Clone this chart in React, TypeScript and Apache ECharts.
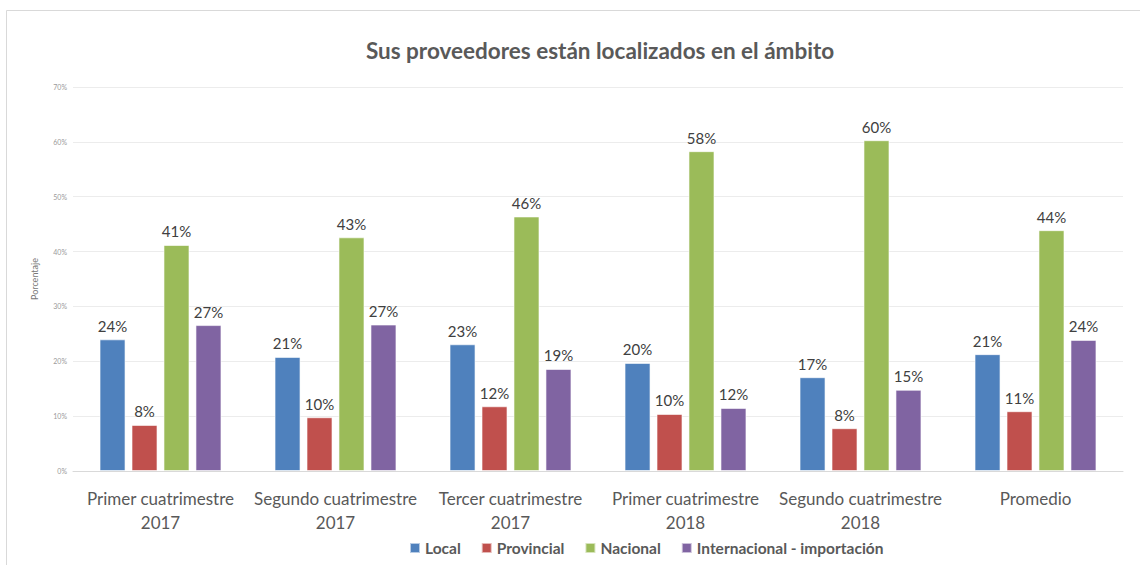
import React, { useEffect, useRef } from "react";
import * as echarts from "echarts";

const categories = [
  "Primer cuatrimestre\n2017",
  "Segundo cuatrimestre\n2017",
  "Tercer cuatrimestre\n2017",
  "Primer cuatrimestre\n2018",
  "Segundo cuatrimestre\n2018",
  "Promedio",
];
const local = [24.0, 20.8, 23.1, 19.7, 17.1, 21.3];
const provincial = [8.4, 9.8, 11.8, 10.4, 7.8, 10.9];
const nacional = [41.2, 42.6, 46.4, 58.3, 60.3, 43.9];
const internacional = [26.6, 26.7, 18.6, 11.5, 14.8, 23.9];
const seriesNames = ["Local", "Provincial", "Nacional", "Internacional - importación"];
const colors = ["#4F81BD", "#C0504D", "#9BBB59", "#8064A2"];

export default function App() {
  const ref = useRef<HTMLDivElement>(null);
  useEffect(() => {
    if (!ref.current) return;
    const chart = echarts.init(ref.current, null, { renderer: "svg" });
    const data = [local, provincial, nacional, internacional];
    const font = "Lato, 'Open Sans', sans-serif";
    chart.setOption({
      animation: false,
      textStyle: { fontFamily: font },
      title: {
        text: "Sus proveedores están localizados en el ámbito",
        left: 595,
        textAlign: "center",
        top: 34,
        textStyle: { fontSize: 22.5, fontWeight: "bold", color: "#595959", fontFamily: font },
      },
      graphic: [
        { type: "line", shape: { x1: 6.5, y1: 10.5, x2: 1140, y2: 10.5 }, style: { stroke: "#d9d9d9", lineWidth: 1 } },
        { type: "line", shape: { x1: 6.5, y1: 10.5, x2: 6.5, y2: 565 }, style: { stroke: "#d9d9d9", lineWidth: 1 } },
      ],
      legend: {
        bottom: 4,
        left: 404,
        itemWidth: 10,
        itemHeight: 10,
        itemGap: 20,
        icon: "rect",
        textStyle: { fontSize: 15.5, fontWeight: "bold", color: "#595959", fontFamily: font },
        data: seriesNames,
      },
      grid: { left: 73, right: 22, top: 87, bottom: 94, containLabel: false },
      xAxis: {
        type: "category",
        data: categories,
        axisLine: { lineStyle: { color: "#d9d9d9" } },
        axisTick: { show: false },
        axisLabel: { interval: 0, fontSize: 17, color: "#595959", lineHeight: 24, margin: 15, fontFamily: font },
      },
      yAxis: {
        type: "value",
        min: 0,
        max: 70,
        interval: 10,
        name: "Porcentaje",
        nameLocation: "middle",
        nameGap: 34,
        nameTextStyle: { fontSize: 9, color: "#777777", fontFamily: font },
        axisLabel: { formatter: "{value}%", fontSize: 7, color: "#9a9a9a", margin: 6 },
        axisLine: { show: false },
        splitLine: { lineStyle: { color: "#ececec" } },
      },
      series: seriesNames.map((name, i) => ({
        name,
        type: "bar",
        data: data[i],
        barWidth: 26,
        barGap: "23%",
        itemStyle: { color: colors[i], borderColor: "rgba(255,255,255,0.6)", borderWidth: 1 },
        label: {
          show: true,
          position: "top",
          distance: 6,
          fontSize: 15,
          color: "#404040",
          fontFamily: font,
          formatter: (p: any) => Math.round(p.value) + "%",
        },
      })),
    });
    return () => chart.dispose();
  }, []);
  return <div ref={ref} style={{ width: 1145, height: 565, position: "absolute", left: 0, top: 0 }} />;
}
